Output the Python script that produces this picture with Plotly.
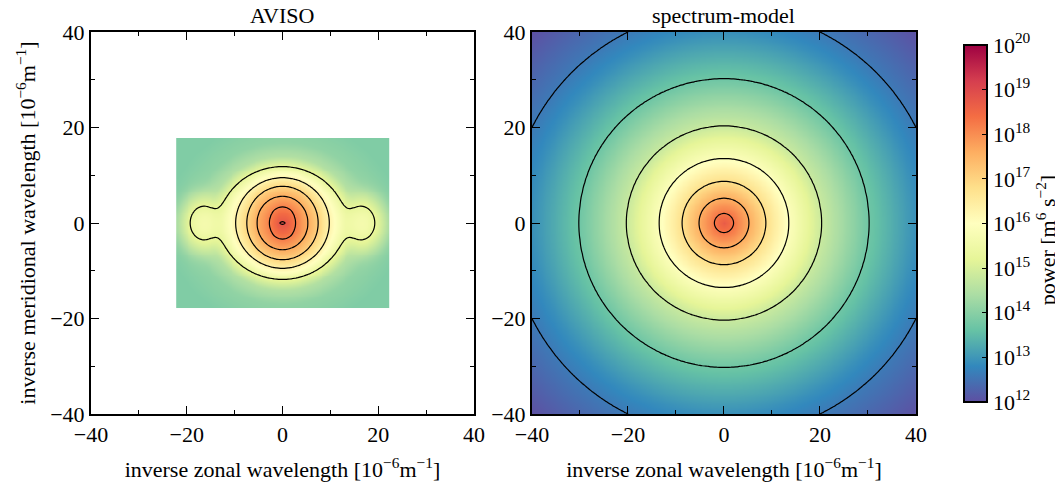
import numpy as np
import plotly.graph_objects as go

# ---------------- data ----------------
# spectrum-model: radial profile of log10(power) vs. inverse wavelength radius
MODEL_RADIUS = [0, 2, 5.2, 8.7, 13.5, 20.3, 30.2, 40, 44.7, 57]
MODEL_LOG_POWER = [18.7, 18.3, 17.6, 16.8, 15.9, 14.8, 13.7, 12.9, 12.6, 12.0]
MODEL_LEVELS = [18.3, 17.6, 16.8, 15.9, 14.8, 13.7, 12.6]

# AVISO: radial profile (meridional radius), anisotropy, and side lobes
AVISO_RADIUS = [0, 0.3, 3.4, 5.6, 7.7, 9.5, 11.8, 14, 17, 22, 30]
AVISO_LOG_POWER = [18.8, 18.75, 18.2, 17.6, 17.0, 16.3, 15.3, 14.5, 14.1, 13.9, 13.9]
AVISO_ANISO_R = [0, 0.6, 1.5, 2.7, 5.3, 7.5, 9.8, 12, 13.5, 30]
AVISO_ANISO_S = [2.0, 2.0, 1.0, 0.8, 0.95, 0.97, 1.03, 1.1, 1.12, 1.12]
AVISO_LEVELS = [18.75, 18.2, 17.6, 17.0, 16.3, 15.3]
LOBE_X = [-16.5, 16.5]
LOBE_Y = [0.0, 0.0]
LOBE_LOG_AMPLITUDE = 15.62
LOBE_SIGMA_X = 2.2
LOBE_SIGMA_Y = 2.7
AVISO_X_EXTENT = [-22, 22]
AVISO_Y_EXTENT = [-17.6, 17.6]

TICKS = [-40, -20, 0, 20, 40]
CBAR_EXPONENTS = [12, 13, 14, 15, 16, 17, 18, 19, 20]

# ---------------- build fields ----------------
xm = np.linspace(-40, 40, 161)
ym = np.linspace(-40, 40, 161)
XM, YM = np.meshgrid(xm, ym)
RM = np.sqrt(XM**2 + YM**2)
ZM = np.interp(RM, MODEL_RADIUS, MODEL_LOG_POWER)

xa = np.linspace(AVISO_X_EXTENT[0], AVISO_X_EXTENT[1], 111)
ya = np.linspace(AVISO_Y_EXTENT[0], AVISO_Y_EXTENT[1], 89)
XA, YA = np.meshgrid(xa, ya)
RA = np.sqrt(XA**2 + YA**2)
S = np.interp(RA, AVISO_ANISO_R, AVISO_ANISO_S)
REFF = np.sqrt((XA / S) ** 2 + YA**2)
P = 10 ** np.interp(REFF, AVISO_RADIUS, AVISO_LOG_POWER)
for lx, ly in zip(LOBE_X, LOBE_Y):
    P = P + 10**LOBE_LOG_AMPLITUDE * np.exp(
        -((XA - lx) ** 2) / (2 * LOBE_SIGMA_X**2) - (YA - ly) ** 2 / (2 * LOBE_SIGMA_Y**2)
    )
ZA = np.log10(P)

FONT = "Liberation Serif"
TICK_SIZE = 22
TITLE_SIZE = 22
fig = go.Figure()

fig.add_trace(go.Heatmap(
    x=xa, y=ya, z=ZA, colorscale="Spectral_r", zmin=12, zmax=20, zsmooth="best",
    showscale=False, xaxis="x", yaxis="y", hoverinfo="skip"))
for lev in AVISO_LEVELS:
    fig.add_trace(go.Contour(
        x=xa, y=ya, z=ZA, autocontour=False,
        contours=dict(coloring="none", start=lev, end=lev, size=1),
        line=dict(color="black", width=1.2), showscale=False,
        xaxis="x", yaxis="y", hoverinfo="skip"))

fig.add_trace(go.Heatmap(
    x=xm, y=ym, z=ZM, colorscale="Spectral_r", zmin=12, zmax=20, zsmooth="best",
    xaxis="x2", yaxis="y2", hoverinfo="skip",
    colorbar=dict(
        x=1.046, xanchor="left", y=0.4987, yanchor="middle", len=0.987, lenmode="fraction",
        thickness=23, outlinewidth=2, outlinecolor="black",
        tickmode="array", tickvals=CBAR_EXPONENTS,
        ticktext=[f"10<sup>{e}</sup>" for e in CBAR_EXPONENTS],
        ticks="inside", ticklen=6, tickwidth=1, tickcolor="black",
        tickfont=dict(family=FONT, size=22, color="black"),
    )))
for lev in MODEL_LEVELS:
    fig.add_trace(go.Contour(
        x=xm, y=ym, z=ZM, autocontour=False,
        contours=dict(coloring="none", start=lev, end=lev, size=1),
        line=dict(color="black", width=1.2), showscale=False,
        xaxis="x2", yaxis="y2", hoverinfo="skip"))

axis_common = dict(
    range=[-40, 40], tickmode="array", tickvals=TICKS,
    ticks="inside", ticklen=8, tickwidth=1.2, tickcolor="black",
    minor=dict(dtick=10, ticks="inside", ticklen=4, tickwidth=1, tickcolor="black"),
    showline=True, linewidth=2, linecolor="black", mirror="ticks",
    showgrid=False, zeroline=False, automargin=False,
    tickfont=dict(family=FONT, size=TICK_SIZE, color="black"),
)
xtitle = dict(text="inverse zonal wavelength [10<sup>−6</sup>m<sup>−1</sup>]",
              font=dict(family=FONT, size=TITLE_SIZE, color="black"), standoff=16)

# the page body adds an 8px margin; the figure is offset by it
fig.update_layout(
    width=1055, height=474,
    margin=dict(l=83, r=147, t=24, b=68, autoexpand=False),
    paper_bgcolor="white", plot_bgcolor="white",
    showlegend=False,
    xaxis=dict(domain=[0, 0.4642], anchor="y", title=xtitle, **axis_common),
    yaxis=dict(domain=[0, 1], anchor="x",
               title=dict(text="inverse meridional wavelength [10<sup>−6</sup>m<sup>−1</sup>]",
                          font=dict(family=FONT, size=TITLE_SIZE, color="black"), standoff=8),
               **axis_common),
    xaxis2=dict(domain=[0.5345, 1], anchor="y2", title=xtitle, **axis_common),
    yaxis2=dict(domain=[0, 1], anchor="x2", **axis_common),
    annotations=[
        dict(text="AVISO", x=0.2321, y=1, xref="paper", yref="paper",
             xanchor="center", yanchor="bottom", yshift=2, showarrow=False,
             font=dict(family=FONT, size=22, color="black")),
        dict(text="spectrum-model", x=0.7672, y=1, xref="paper", yref="paper",
             xanchor="center", yanchor="bottom", yshift=2, showarrow=False,
             font=dict(family=FONT, size=22, color="black")),
        dict(text="power [m<sup>6</sup> s<sup>−2</sup>]", x=1.1576, y=0.455,
             xref="paper", yref="paper", xanchor="center", yanchor="middle",
             textangle=-90, showarrow=False,
             font=dict(family=FONT, size=22, color="black")),
    ],
)

fig.write_html("out.html")
